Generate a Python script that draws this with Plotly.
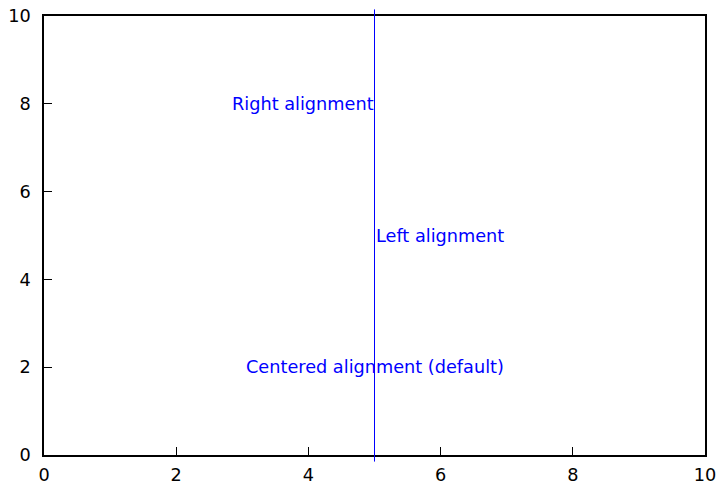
import plotly.graph_objects as go

# label positions and their horizontal alignment
labels = ["Right alignment", "Left alignment", "Centered alignment (default)"]
label_x = [5, 5, 5]
label_y = [8, 5, 2]
anchors = ["right", "left", "center"]

tick_vals = [0, 2, 4, 6, 8, 10]
y_range = [0, 10]
line_x = 5
line_y = [-0.15, 10.15]

fig = go.Figure()

# invisible trace to establish the axes
fig.add_trace(go.Scatter(x=[0, 10], y=[0, 10], mode="markers",
                         marker=dict(opacity=0), hoverinfo="skip", showlegend=False))

# vertical line slightly overshooting the frame
span = y_range[1] - y_range[0]
fig.add_shape(type="line", xref="x", yref="y domain",
              x0=line_x, x1=line_x,
              y0=(line_y[0] - y_range[0]) / span,
              y1=(line_y[1] - y_range[0]) / span,
              line=dict(color="blue", width=1), layer="above")

for txt, x, y, a in zip(labels, label_x, label_y, anchors):
    fig.add_annotation(x=x, y=y, text=txt, xanchor=a, yanchor="middle",
                       showarrow=False, borderpad=0,
                       font=dict(color="blue", size=17.7))

axis_common = dict(
    tickvals=tick_vals, ticks="inside", ticklen=8,
    tickcolor="black", tickwidth=1, showline=True, linecolor="black",
    linewidth=1.5, mirror=True, showgrid=False, zeroline=False,
    automargin=False, tickfont=dict(size=17.7, color="black"),
)

fig.update_xaxes(range=[0, 10], ticklabelstandoff=3, **axis_common)
fig.update_yaxes(range=y_range, ticklabelstandoff=8, **axis_common)

fig.update_layout(
    width=718, height=487,
    margin=dict(l=44, r=13, t=16, b=32),
    plot_bgcolor="white", paper_bgcolor="white",
    font=dict(family="DejaVu Sans", size=17.7, color="black"),
)

fig.write_html("out.html")
